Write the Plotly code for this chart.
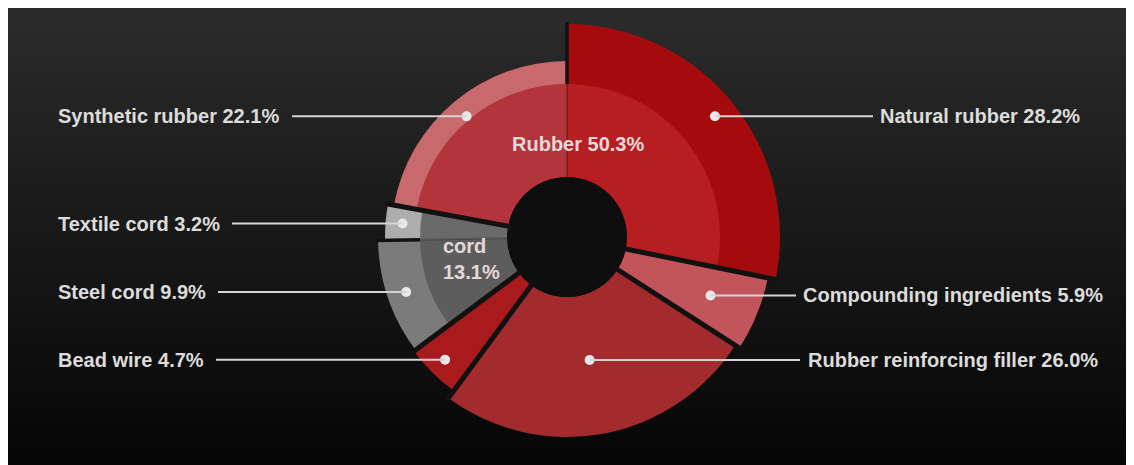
import math
import plotly.graph_objects as go

# ---------------- data ----------------
categories = ["Natural rubber", "Compounding ingredients", "Rubber reinforcing filler",
              "Bead wire", "Steel cord", "Textile cord", "Synthetic rubber"]
shares = [28.2, 5.9, 26.0, 4.7, 9.9, 3.2, 22.1]
groups = ["Rubber", "", "", "", "cord", "cord", "Rubber"]
group_names = ["Rubber", "cord"]
group_shares = [50.3, 13.1]

# ---------------- style ----------------
W, H = 1134, 465
OFF = 8                    # page body margin (screen px -> figure px)
CX, CY = 567 - OFF, 237 - OFF   # figure-pixel centre of the polar area
RMAX = 215                 # radial range == pixel radius
HOLE = 60
outer_r = {"Natural rubber": 213, "Compounding ingredients": 205, "Rubber reinforcing filler": 200,
           "Bead wire": 191, "Steel cord": 189, "Textile cord": 182, "Synthetic rubber": 176}
inner_r = {"Rubber": 153, "cord": 147}
outer_col = {"Natural rubber": "#a50b0d", "Compounding ingredients": "#c2555b",
             "Rubber reinforcing filler": "#a32b2e", "Bead wire": "#a81a1c",
             "Steel cord": "#7b7b7b", "Textile cord": "#adadad", "Synthetic rubber": "#c8696d"}
inner_col = {"Natural rubber": "#b71e22", "Synthetic rubber": "#b3343a",
             "Steel cord": "#5d5d5d", "Textile cord": "#6a6a6a"}
dot_r = {"Natural rubber": 191, "Compounding ingredients": 155, "Rubber reinforcing filler": 125,
         "Bead wire": 173, "Steel cord": 170, "Textile cord": 165, "Synthetic rubber": 157}
# side, leader-line end x (screen px), text x (screen px)
label_pos = {"Natural rubber": ("right", 873, 878),
             "Compounding ingredients": ("right", 796, 801),
             "Rubber reinforcing filler": ("right", 800, 806),
             "Bead wire": ("left", 216, 56),
             "Steel cord": ("left", 218, 56),
             "Textile cord": ("left", 232, 56),
             "Synthetic rubber": ("left", 292, 56)}
group_label_r = {"Rubber": 95, "cord": 98}
group_label_xshift = {"Rubber": -7, "cord": 0}
FONT = "Liberation Sans, Arial, sans-serif"
TXT = "#dcdcdc"

# ---------------- geometry from data ----------------
n = len(categories)
widths = [s * 3.6 for s in shares]
starts = []
acc = 0.0
for w in widths:
    starts.append(acc)
    acc += w
mids = [s + w / 2 for s, w in zip(starts, widths)]


def to_px(r, theta):
    a = math.radians(theta)
    return CX + r * math.sin(a), CY - r * math.cos(a)


def px(x):
    return x / W


def py(y):
    return 1 - y / H


fig = go.Figure()

# outer wedges (full from hole)
for i, c in enumerate(categories):
    fig.add_trace(go.Barpolar(theta=[mids[i]], width=[widths[i]], base=[HOLE],
                              r=[outer_r[c] - HOLE], marker=dict(color=outer_col[c], line=dict(width=0)),
                              hoverinfo="skip", showlegend=False))
# inner ring
for i, c in enumerate(categories):
    g = groups[i]
    if g:
        fig.add_trace(go.Barpolar(theta=[mids[i]], width=[widths[i]], base=[HOLE],
                                  r=[inner_r[g] - HOLE], marker=dict(color=inner_col[c], line=dict(width=0)),
                                  hoverinfo="skip", showlegend=False))

# gap lines at boundaries
for i in range(n):
    j = (i + 1) % n
    ang = starts[j] if j != 0 else 360.0
    rr = max(outer_r[categories[i]], outer_r[categories[j]]) + 3
    same = groups[i] and groups[i] == groups[j]
    if same:
        r0 = inner_r[groups[i]]
        fig.add_trace(go.Scatterpolar(r=[HOLE, r0], theta=[ang, ang], mode="lines",
                                      line=dict(color="rgba(0,0,0,0.22)", width=2),
                                      hoverinfo="skip", showlegend=False))
        fig.add_trace(go.Scatterpolar(r=[r0, rr], theta=[ang, ang], mode="lines",
                                      line=dict(color="#111111", width=3.5),
                                      hoverinfo="skip", showlegend=False))
    else:
        fig.add_trace(go.Scatterpolar(r=[HOLE - 5, rr], theta=[ang, ang], mode="lines",
                                      line=dict(color="#111111", width=5),
                                      hoverinfo="skip", showlegend=False))

# hole
fig.add_trace(go.Barpolar(theta=[0], width=[360], base=[0], r=[HOLE],
                          marker=dict(color="#0e0e0e", line=dict(width=0)),
                          hoverinfo="skip", showlegend=False))

# dots
fig.add_trace(go.Scatterpolar(r=[dot_r[c] for c in categories], theta=mids, mode="markers",
                              marker=dict(size=10, color="#e8e8e8"),
                              hoverinfo="skip", showlegend=False))

shapes = []
# background gradient
top_c, bot_c = (43, 43, 43), (5, 5, 5)
nb = 93
for k in range(nb):
    ya = H * k / nb
    yb = min(H, H * (k + 1) / nb + 3)
    t = (k + 0.5) / nb
    col = tuple(round(top_c[m] + (bot_c[m] - top_c[m]) * t) for m in range(3))
    shapes.append(dict(type="rect", xref="paper", yref="paper", layer="below",
                       x0=0, x1=1, y0=py(yb), y1=py(ya),
                       fillcolor="rgb(%d,%d,%d)" % col, line=dict(width=0)))

annotations = []
for i, c in enumerate(categories):
    dx, dy = to_px(dot_r[c], mids[i])
    side, lx, tx = label_pos[c]
    shapes.append(dict(type="line", xref="paper", yref="paper",
                       x0=px(dx), y0=py(dy), x1=px(lx - OFF), y1=py(dy),
                       line=dict(color="#d4d4d4", width=2)))
    annotations.append(dict(x=px(tx - OFF), y=py(dy), xref="paper", yref="paper",
                            text="<b>%s %.1f%%</b>" % (c, shares[i]), showarrow=False,
                            xanchor="left", yanchor="middle",
                            font=dict(family=FONT, size=20, color=TXT)))

# group labels
for g, gs in zip(group_names, group_shares):
    idx = [i for i in range(n) if groups[i] == g]
    first = [i for i in idx if groups[(i - 1) % n] != g][0]
    gw = sum(widths[i] for i in idx)
    gmid = starts[first] + gw / 2
    x, y = to_px(group_label_r[g], gmid)
    text = "<b>%s %.1f%%</b>" % (g, gs) if g == "Rubber" else "<b>%s<br>%.1f%%</b>" % (g, gs)
    annotations.append(dict(x=px(x), y=py(y), xref="paper", yref="paper", text=text,
                            xshift=group_label_xshift[g],
                            showarrow=False, xanchor="center", yanchor="middle", align="left",
                            font=dict(family=FONT, size=20, color="#e6d8d8")))

fig.update_layout(
    width=W, height=H, margin=dict(l=0, r=0, t=0, b=0),
    paper_bgcolor="#1a1a1a", plot_bgcolor="rgba(0,0,0,0)",
    polar=dict(
        domain=dict(x=[(CX - RMAX) / W, (CX + RMAX) / W], y=[(H - CY - RMAX) / H, (H - CY + RMAX) / H]),
        bgcolor="rgba(0,0,0,0)", barmode="overlay",
        angularaxis=dict(visible=False, direction="clockwise", rotation=90, showgrid=False),
        radialaxis=dict(visible=False, range=[0, RMAX], showgrid=False),
    ),
    shapes=shapes, annotations=annotations, showlegend=False,
)

fig.write_html("out.html")
